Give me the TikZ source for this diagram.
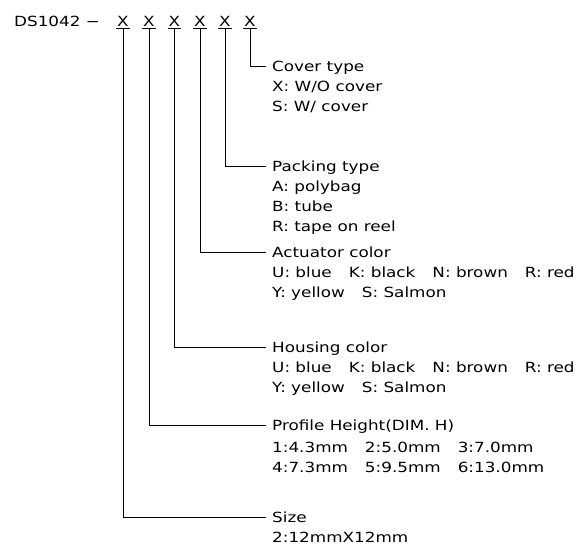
\documentclass[tikz,border=0pt]{standalone}
\usepackage{fontspec}
\setmainfont{DejaVu Sans}[FakeStretch=1.2]
\usetikzlibrary{positioning}

\newcommand{\sep}{\hspace{17pt}}

\tikzset{
  code/.style={anchor=base, inner xsep=1pt, inner ysep=2pt},
  head/.style={anchor=west, text height=10pt, text depth=0pt,
    inner xsep=6pt, inner ysep=0pt},
  info/.style={align=left, inner xsep=6pt, inner ysep=0pt},
  lead/.style={line width=0.8pt},
}

\begin{document}
\begin{tikzpicture}[x=1pt, y=-1pt, font=\fontsize{14}{20}\selectfont]
  \useasboundingbox (0,0) rectangle (586,558);

  %% Part number and the six code letters.
  \node[anchor=base west, inner sep=0pt] (part) at (14,26) {DS1042 −};
  \foreach \n/\xx in {1/123, 2/149, 3/174.5, 4/200, 5/225, 6/250} {
    \node[code] (x\n) at (\xx,26) {X};
    \draw[lead] (x\n.south west) -- (x\n.south east);
  }

  %% Cover type
  \node[head] (cover) at (266,66.5) {Cover type};
  \node[info, below right=6pt and 0pt of cover.south west] (coverinfo)
  {\strut X: W/O cover\\S: W/ cover};
  \draw[lead] (x6.south) |- (cover.west);

  %% Packing type
  \node[head] (packing) at (266,166.5) {Packing type};
  \node[info, below right=6pt and 0pt of packing.south west] (packinginfo)
  {\strut A: polybag\\B: tube\\R: tape on reel};
  \draw[lead] (x5.south) |- (packing.west);

  %% Actuator color
  \node[head] (actuator) at (266,252) {Actuator color};
  \node[info, below right=6pt and 0pt of actuator.south west] (actuatorinfo)
  {\strut U: blue\sep K: black\sep N: brown\sep R: red\\
    Y: yellow\sep S: Salmon};
  \draw[lead] (x4.south) |- (actuator.west);

  %% Housing color
  \node[head] (housing) at (266,347) {Housing color};
  \node[info, below right=6pt and 0pt of housing.south west] (housinginfo)
  {\strut U: blue\sep K: black\sep N: brown\sep R: red\\
    Y: yellow\sep S: Salmon};
  \draw[lead] (x3.south) |- (housing.west);

  %% Profile height
  \node[head] (profile) at (266,425) {Profile Height(DIM. H)};
  \node[info, below right=8pt and 0pt of profile.south west] (profileinfo)
  {\strut 1:4.3mm\sep 2:5.0mm\sep 3:7.0mm\\
    4:7.3mm\sep 5:9.5mm\sep 6:13.0mm};
  \draw[lead] (x2.south) |- (profile.west);

  %% Size
  \node[head] (size) at (266,517) {Size};
  \node[info, below right=6pt and 0pt of size.south west] (sizeinfo)
  {\strut 2:12mmX12mm};
  \draw[lead] (x1.south) |- (size.west);

\end{tikzpicture}
\end{document}
